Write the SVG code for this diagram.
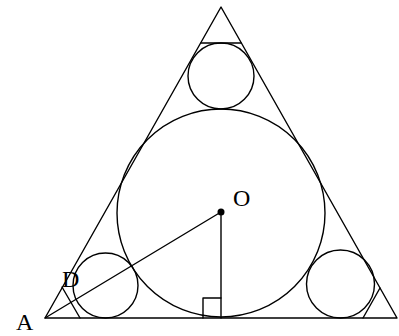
<svg xmlns="http://www.w3.org/2000/svg" width="399" height="336" viewBox="0 0 399 336">
<style>
.ln{fill:none;stroke:#000;stroke-width:1.4;stroke-linecap:round;stroke-linejoin:round}
.lb{font-family:"Liberation Serif","Times New Roman",serif;font-size:24px;fill:#000}
</style>
<rect width="399" height="336" fill="#fff"/>
<g id="triangle">
<polygon class="ln" points="221,7 45,318 397,318"/>
<line class="ln" x1="201" y1="43" x2="241" y2="43"/>
<line class="ln" x1="62" y1="287" x2="80" y2="318"/>
<line class="ln" x1="363" y1="318" x2="380" y2="288"/>
</g>
<g id="circles">
<circle class="ln" cx="221" cy="213" r="104"/>
<circle class="ln" cx="221" cy="76" r="33"/>
<circle class="ln" cx="105.5" cy="285.5" r="32.5"/>
<circle class="ln" cx="340.5" cy="284" r="34"/>
</g>
<g id="segments">
<line class="ln" x1="45" y1="318" x2="221" y2="212"/>
<line class="ln" x1="221" y1="212" x2="221" y2="318"/>
<polyline class="ln" points="203,318 203,298 221,298"/>
<circle cx="221" cy="212" r="3.5" fill="#000"/>
</g>
<g id="labels">
<text class="lb" x="16" y="330">A</text>
<text class="lb" x="62" y="287">D</text>
<text class="lb" x="233" y="206">O</text>
</g>
</svg>
